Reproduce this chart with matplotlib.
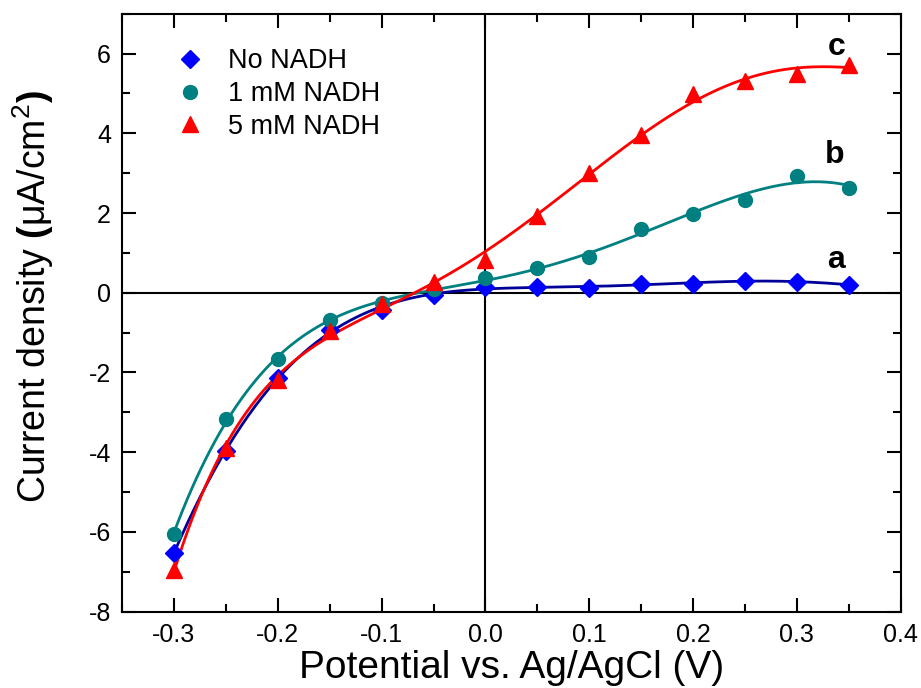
import matplotlib
matplotlib.use("Agg")
import matplotlib.pyplot as plt
import numpy as np
from matplotlib.ticker import MultipleLocator

plt.rcParams["font.family"] = ["Liberation Sans", "DejaVu Sans"]
plt.rcParams["mathtext.fontset"] = "custom"
plt.rcParams["mathtext.rm"] = "Liberation Sans"
plt.rcParams["mathtext.bf"] = "Liberation Sans:bold"

# Potential (V)
potential = [-0.30, -0.25, -0.20, -0.15, -0.10, -0.05, 0.00,
             0.05, 0.10, 0.15, 0.20, 0.25, 0.30, 0.35]

# Current density (uA/cm2)
no_nadh = [-6.52, -3.98, -2.14, -0.93, -0.43, -0.05, 0.15,
           0.15, 0.11, 0.23, 0.23, 0.30, 0.28, 0.20]
nadh_1mm = [-6.05, -3.16, -1.66, -0.69, -0.26, 0.09, 0.36,
            0.62, 0.90, 1.61, 1.98, 2.33, 2.93, 2.64]
nadh_5mm = [-6.95, -3.90, -2.18, -0.97, -0.28, 0.28, 0.83,
            1.92, 3.00, 3.96, 4.98, 5.32, 5.49, 5.72]

labels = ["No NADH", "1 mM NADH", "5 mM NADH"]
curve_tags = ["a", "b", "c"]

series = [
    # data, marker, marker colour, line colour, marker size, fit degree
    (no_nadh, "D", "#0000ff", "#000099", 9, 6),
    (nadh_1mm, "o", "#008080", "#008080", 10, 5),
    (nadh_5mm, "^", "#ff0000", "#ff0000", 11, 5),
]

fig, ax = plt.subplots(figsize=(9.21, 6.88), dpi=100)
fig.subplots_adjust(left=0.1325, right=0.978, bottom=0.111, top=0.98)

ax.axhline(0, color="black", lw=1.5, zorder=1)
ax.axvline(0, color="black", lw=1.5, zorder=1)

x = np.array(potential)
xs = np.linspace(x.min(), x.max(), 300)
for (vals, mk, mcol, lcol, ms, deg), lab in zip(series, labels):
    y = np.array(vals)
    coef = np.polyfit(x, y, deg)
    ax.plot(xs, np.polyval(coef, xs), color=lcol, lw=2, zorder=2)
    ax.plot(x, y, mk, color=mcol, ms=ms, mec=mcol, ls="none", label=lab, zorder=3)

# curve tags a / b / c
tag_pos = [(0.338, 0.83), (0.336, 3.46), (0.338, 6.17)]
for t, (tx, ty) in zip(curve_tags, tag_pos):
    ax.text(tx, ty, t, fontsize=23, fontweight="bold", ha="center", va="center")

ax.set_xlim(-0.35, 0.4)
ax.set_ylim(-8, 7)
ax.xaxis.set_minor_locator(MultipleLocator(0.05))
ax.yaxis.set_minor_locator(MultipleLocator(1))
ax.set_xticks(np.arange(-0.3, 0.41, 0.1))
ax.set_xticklabels(["-0.3", "-0.2", "-0.1", "0.0", "0.1", "0.2", "0.3", "0.4"])
ax.set_yticks(np.arange(-8, 7, 2))
ax.set_yticklabels([str(v) for v in range(-8, 7, 2)])
ax.tick_params(which="both", direction="in", top=True, right=True, width=1.5,
               labelsize=18)
ax.tick_params(which="major", length=10, pad=8)
ax.tick_params(which="minor", length=6)
for sp in ax.spines.values():
    sp.set_linewidth(1.5)

ax.set_xlabel("Potential vs. Ag/AgCl (V)", fontsize=28, labelpad=2)
ax.set_ylabel(r"Current density $\mathbf{(}$μA/cm$^{2}$$\mathbf{)}$", fontsize=27)
ax.yaxis.set_label_coords(-0.085, 0.527)

ax.legend(loc="upper left", bbox_to_anchor=(0.067, 0.942), frameon=False,
          fontsize=19.5, handletextpad=0.8, labelspacing=0.25, handlelength=1.2,
          borderpad=0, borderaxespad=0)

fig.savefig("out.png", dpi=100)
